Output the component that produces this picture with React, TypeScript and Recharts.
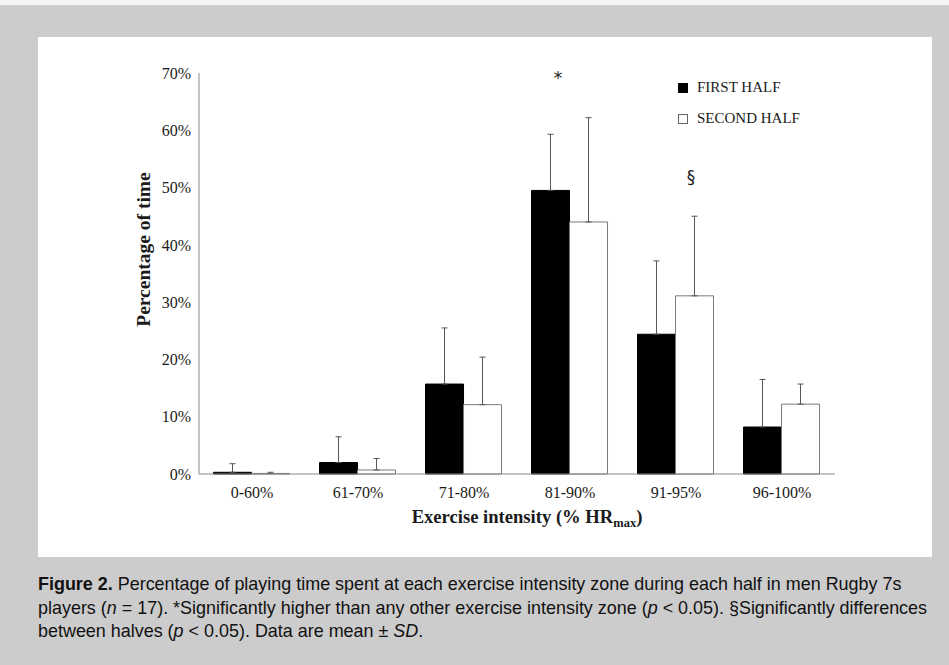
import React from "react";
import {
  BarChart,
  Bar,
  XAxis,
  YAxis,
  ErrorBar,
  Legend,
  Label,
  ReferenceDot,
} from "recharts";

const zones = ["0-60%", "61-70%", "71-80%", "81-90%", "91-95%", "96-100%"];
const firstHalf = [0.3, 2.0, 15.7, 49.5, 24.4, 8.2];
const firstSD = [1.5, 4.5, 9.8, 9.8, 12.8, 8.3];
const secondHalf = [0.1, 0.7, 12.1, 44.0, 31.1, 12.2];
const secondSD = [0.2, 2.0, 8.3, 18.2, 13.9, 3.5];
const yTicks = [0, 10, 20, 30, 40, 50, 60, 70];

// significance marks
const markZones = ["81-90%", "91-95%"];
const markLevels = [69.9, 51.8];
const markSymbols = ["*", "§"];
const markShift = [-12, 15];

const data = zones.map((zone, i) => ({
  zone,
  first: firstHalf[i],
  firstSD: firstSD[i],
  second: secondHalf[i],
  secondSD: secondSD[i],
}));

const serif = "'Liberation Serif', 'Times New Roman', serif";
const ink = "#1a1a1a";

const XTitle = (props: any) => {
  const { viewBox } = props;
  const cx = viewBox.x + viewBox.width / 2 + 10;
  return (
    <text
      x={cx}
      y={viewBox.y + 49}
      textAnchor="middle"
      fontFamily={serif}
      fontWeight="bold"
      fontSize={18.6}
      fill={ink}
    >
      Exercise intensity (% HR
      <tspan fontSize={12.5} dy={4}>
        max
      </tspan>
      <tspan dy={-4}>)</tspan>
    </text>
  );
};

const YTitle = (props: any) => {
  const { viewBox } = props;
  const x = viewBox.x + 105;
  const y = viewBox.y + viewBox.height / 2 - 24;
  return (
    <text
      x={x}
      y={y}
      transform={`rotate(-90, ${x}, ${y})`}
      textAnchor="middle"
      dominantBaseline="central"
      fontFamily={serif}
      fontWeight="bold"
      fontSize={19.5}
      fill={ink}
    >
      Percentage of time
    </text>
  );
};

const LegendBox = ({ payload }: any) => (
  <div style={{ fontFamily: serif, fontSize: 15, color: ink }}>
    {(payload || []).map((entry: any) => (
      <div
        key={entry.value}
        style={{ display: "flex", alignItems: "center", height: 31 }}
      >
        <span
          style={{
            display: "inline-block",
            width: 8,
            height: 8,
            background: entry.color,
            border: `1px solid ${entry.color === "#000000" ? "#000" : "#666"}`,
            marginRight: 9,
          }}
        />
        {entry.value}
      </div>
    ))}
  </div>
);

const Mark = (symbol: string, shift: number) => (p: any) =>
  (
    <text
      x={p.cx + shift}
      y={p.cy}
      textAnchor="middle"
      dominantBaseline="central"
      fontFamily="'DejaVu Sans', sans-serif"
      fontSize={17}
      dy={symbol === "*" ? 4 : 0}
      fill={ink}
    >
      {symbol}
    </text>
  );

const captionStyle: React.CSSProperties = {
  fontFamily: "'Liberation Sans', Arial, sans-serif",
  fontSize: 19,
  lineHeight: "23.5px",
  color: "#111",
  whiteSpace: "nowrap",
  transform: "scaleX(0.944)",
  transformOrigin: "0 0",
};

export default function App() {
  return (
    <div
      style={{
        position: "fixed",
        left: 0,
        top: 0,
        width: 949,
        height: 665,
        background: "#cccccc",
        overflow: "hidden",
      }}
    >
      <div
        style={{
          position: "absolute",
          left: 0,
          top: 0,
          width: 949,
          height: 5,
          background: "#f4f4f4",
        }}
      />
      <div
        style={{
          position: "absolute",
          left: 38,
          top: 37,
          width: 894,
          height: 520,
          background: "#ffffff",
        }}
      >
        <BarChart
          width={894}
          height={520}
          data={data}
          margin={{ top: 36, right: 97, left: 0, bottom: 23 }}
          barCategoryGap="13.7%"
          barGap={0}
        >
          <XAxis
            dataKey="zone"
            height={60}
            tickLine={false}
            tickMargin={7}
            axisLine={{ stroke: "#8a8a8a" }}
            tick={{ fontFamily: serif, fontSize: 16, fill: ink }}
            label={<Label content={<XTitle />} />}
          />
          <YAxis
            width={161}
            domain={[0, 70]}
            ticks={yTicks}
            tickLine={false}
            axisLine={{ stroke: "#8a8a8a" }}
            tickFormatter={(v: number) => `${v}%`}
            tick={{ fontFamily: serif, fontSize: 16, fill: ink }}
            label={<Label content={<YTitle />} />}
          />
          <Legend
            layout="vertical"
            align="center"
            verticalAlign="middle"
            content={<LegendBox />}
            wrapperStyle={{ top: 35, left: 640, width: 200, height: 62 }}
          />
          <Bar
            dataKey="first"
            name="FIRST HALF"
            fill="#000000"
            stroke="#000000"
            isAnimationActive={false}
          >
            <ErrorBar
              dataKey={(d: any) => [0, d.firstSD]}
              width={3}
              stroke="#555555"
              strokeWidth={1}
              direction="y"
            />
          </Bar>
          <Bar
            dataKey="second"
            name="SECOND HALF"
            fill="#ffffff"
            stroke="#7a7a7a"
            isAnimationActive={false}
          >
            <ErrorBar
              dataKey={(d: any) => [0, d.secondSD]}
              width={3}
              stroke="#555555"
              strokeWidth={1}
              direction="y"
            />
          </Bar>
          {markZones.map((z, i) => (
            <ReferenceDot
              key={z}
              x={z}
              y={markLevels[i]}
              r={0}
              ifOverflow="visible"
              shape={Mark(markSymbols[i], markShift[i])}
            />
          ))}
        </BarChart>
      </div>
      <div style={{ position: "absolute", left: 38, top: 572, ...captionStyle }}>
        <div>
          <b>Figure 2.</b> Percentage of playing time spent at each exercise
          intensity zone during each half in men Rugby 7s
        </div>
        <div>
          players (<i>n</i> = 17). *Significantly higher than any other exercise
          intensity zone (<i>p</i> &lt; 0.05). §Significantly differences
        </div>
        <div>
          between halves (<i>p</i> &lt; 0.05). Data are mean ± <i>SD</i>.
        </div>
      </div>
    </div>
  );
}
